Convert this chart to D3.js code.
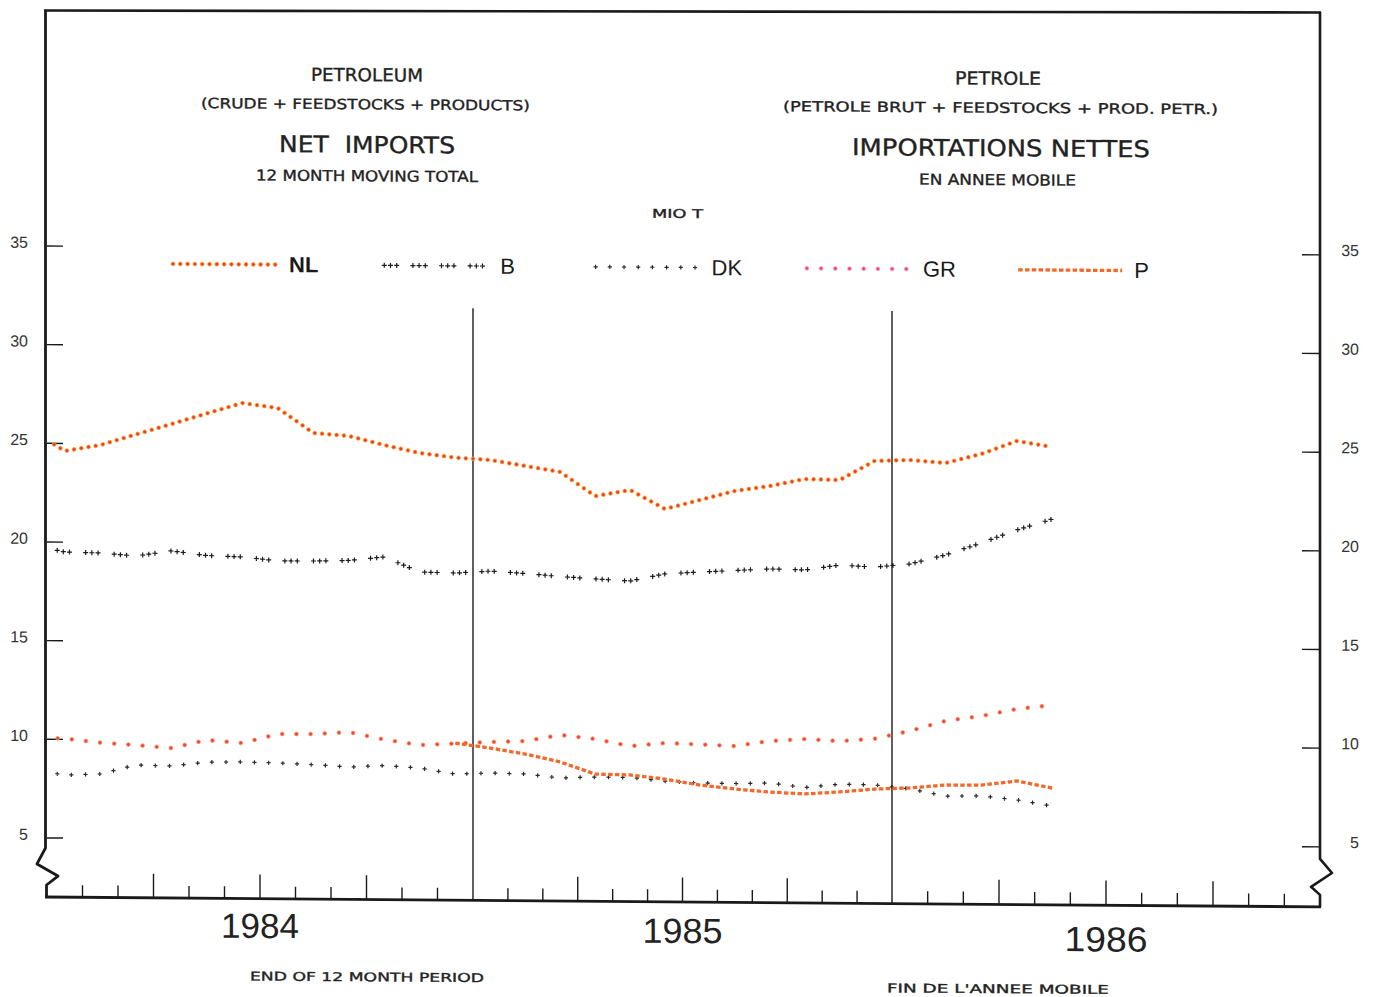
<!DOCTYPE html>
<html><head><meta charset="utf-8">
<script src="https://cdn.jsdelivr.net/npm/d3@7"></script>
<style>body{margin:0;background:#fff}svg{display:block}</style>
</head><body>
<svg id="chart" width="1375" height="997"></svg>
<script>
// ---- DATA (12-month moving totals, Mio t, mid-month) ----
const months = ["1983-12","1984-01","1984-02","1984-03","1984-04","1984-05","1984-06","1984-07","1984-08","1984-09","1984-10","1984-11","1984-12",
  "1985-01","1985-02","1985-03","1985-04","1985-05","1985-06","1985-07","1985-08","1985-09","1985-10","1985-11","1985-12",
  "1986-01","1986-02","1986-03","1986-04","1986-05"];
const NL = [25.72,24.62,24.93,25.48,26.02,26.57,27.11,26.87,25.62,25.48,25.03,24.64,24.42,24.31,24.02,23.73,22.52,22.84,21.89,22.36,22.83,23.09,23.46,23.42,24.40,24.46,24.32,24.79,25.46,25.17];
const B  = [19.88,19.50,19.46,19.32,19.59,19.37,19.31,19.12,19.13,19.17,19.36,18.61,18.57,18.68,18.57,18.43,18.32,18.23,18.60,18.71,18.80,18.89,18.85,19.11,19.02,19.19,19.66,20.28,20.95,21.52];
const DK = [8.50,8.19,8.26,8.73,8.69,8.90,8.92,8.88,8.81,8.70,8.79,8.67,8.38,8.45,8.41,8.22,8.28,8.27,8.10,8.01,8.00,8.04,7.82,8.01,7.98,7.79,7.44,7.46,7.27,6.97];
const GR = [10.10,10.04,9.85,9.74,9.60,10.02,9.88,10.35,10.36,10.47,10.11,9.84,9.93,10.02,10.08,10.40,10.21,9.86,10.03,9.97,9.90,10.17,10.28,10.19,10.32,10.73,11.25,11.51,11.88,12.09];
const P  = [null,null,null,null,null,null,null,null,null,null,null,null,9.95,9.71,9.42,9.03,8.43,8.40,8.20,7.91,7.72,7.58,7.50,7.61,7.77,7.84,8.00,8.01,8.23,7.88];
const seriesNames = ["NL","B","DK","GR","P"];
const yTickValues = [5,10,15,20,25,30,35];
const yearLabels = ["1984","1985","1986"];

// ---- SETUP ----
const svg = d3.select("#chart");
// months from Jan 1984; the scanned axis is slightly uneven, so one stop per year boundary
const x = d3.scaleLinear().domain([0,12,24,36]).range([47,473,892,1320]);
const y = d3.scaleLinear().domain([0,35]).range([936.6,246]);
const axisY = 897;
const ink = "#1a1a1a";

svg.append("line").attr("x1",44).attr("y1",10.5).attr("x2",1321).attr("y2",12.5)
  .attr("stroke",ink).attr("stroke-width",2.6);

const g = svg.append("g").attr("transform","translate(47,0) skewY(0.4) translate(-47,0)");

const frameLine = d3.line();
g.append("path").attr("d", frameLine([[45.5,10],[45.5,848],[37,864],[58,876],[46.5,885],[46.5,axisY]]))
  .attr("fill","none").attr("stroke",ink).attr("stroke-width",2.8).attr("stroke-linejoin","round");
g.append("path").attr("d", frameLine([[1320,3],[1320,850],[1332,864],[1311,878],[1320,886],[1320,axisY+1]]))
  .attr("fill","none").attr("stroke",ink).attr("stroke-width",2.6).attr("stroke-linejoin","round");
g.append("line").attr("x1",45).attr("x2",1321).attr("y1",axisY).attr("y2",axisY+1)
  .attr("stroke",ink).attr("stroke-width",2.8);

const monthTicks = d3.range(1,36).filter(m => m !== 12 && m !== 24);
g.selectAll("line.mt").data(monthTicks).join("line").attr("class","mt")
  .attr("x1",d=>x(d)).attr("x2",d=>x(d))
  .attr("y1",axisY).attr("y2",d=> axisY - (d%3===0 ? 24 : 12))
  .attr("stroke",ink).attr("stroke-width",1.4);
g.selectAll("line.ys").data([12,24]).join("line").attr("class","ys")
  .attr("x1",d=>x(d)).attr("x2",d=>x(d)).attr("y1",axisY).attr("y2",y(32))
  .attr("stroke",ink).attr("stroke-width",1.4);

g.selectAll("text.yr").data(yearLabels).join("text").attr("class","yr")
  .attr("x",(d,i)=>x(6+12*i)).attr("y",(d,i)=>[936.5,938.5,944][i])
  .attr("text-anchor","middle").attr("font-family","Liberation Sans, Arial, sans-serif")
  .attr("font-size",35).attr("fill","#222")
  .attr("textLength",(d,i)=>[78,80,83][i]).attr("lengthAdjust","spacingAndGlyphs")
  .text(d=>d);

g.selectAll("line.yl").data(yTickValues).join("line").attr("class","yl")
  .attr("x1",47).attr("x2",63).attr("y1",d=>y(d)).attr("y2",d=>y(d))
  .attr("stroke",ink).attr("stroke-width",1.4);
g.selectAll("line.yr").data(yTickValues).join("line").attr("class","yr")
  .attr("x1",1302).attr("x2",1320).attr("y1",d=>y(d)).attr("y2",d=>y(d))
  .attr("stroke",ink).attr("stroke-width",1.4);
g.selectAll("text.yl").data(yTickValues).join("text").attr("class","yl")
  .attr("x",28).attr("y",d=>y(d)+2).attr("text-anchor","end")
  .attr("font-family","Liberation Sans, Arial, sans-serif").attr("font-size",16).attr("fill","#333")
  .text(d=>d);
g.selectAll("text.yrl").data(yTickValues).join("text").attr("class","yrl")
  .attr("x",1359).attr("y",d=>y(d)+1).attr("text-anchor","end")
  .attr("font-family","Liberation Sans, Arial, sans-serif").attr("font-size",16).attr("fill","#333")
  .text(d=>d);

// ---- TITLES ----
const titleFont = "DejaVu Sans, Verdana, sans-serif";
const texts = [
  {t:"PETROLEUM", cx:367, y:79, fs:18, w:112},
  {t:"(CRUDE + FEEDSTOCKS + PRODUCTS)", cx:365.5, y:107, fs:14, w:329},
  {t:"NET  IMPORTS", cx:367, y:150.5, fs:23, w:176},
  {t:"12 MONTH MOVING TOTAL", cx:367, y:179, fs:15, w:222},
  {t:"PETROLE", cx:998, y:78, fs:18, w:86},
  {t:"(PETROLE BRUT + FEEDSTOCKS + PROD. PETR.)", cx:1000.5, y:106, fs:14, w:435},
  {t:"IMPORTATIONS NETTES", cx:1001, y:149.5, fs:23, w:298},
  {t:"EN ANNEE MOBILE", cx:997.5, y:178.5, fs:15, w:157},
  {t:"MIO T", cx:677.5, y:213.5, fs:12, w:51},
  {t:"END OF 12 MONTH PERIOD", cx:367, y:979, fs:12, w:234},
  {t:"FIN DE L'ANNEE MOBILE", cx:998, y:986.5, fs:12, w:222}
];
g.selectAll("text.tt").data(texts).join("text").attr("class","tt")
  .attr("x",d=>d.cx).attr("y",d=>d.y).attr("text-anchor","middle")
  .attr("font-family",titleFont).attr("font-size",d=>d.fs).attr("fill","#222")
  .attr("stroke","#222").attr("stroke-width",0.35)
  .attr("textLength",d=>d.w).attr("lengthAdjust","spacingAndGlyphs")
  .style("white-space","pre")
  .text(d=>d.t);

// ---- SERIES ----
const line = d3.line().defined(d=>d.v!=null).x(d=>x(d.k+0.5)).y(d=>y(d.v));
const toPts = arr => arr.map((v,i)=>({k:i-1, v, m:months[i]}));

function sample(node, step, start){
  const L = node.getTotalLength(), out=[];
  for(let s=start; s<=L+0.01; s+=step){ const p=node.getPointAtLength(Math.min(s,L)); out.push([p.x,p.y]); }
  return out;
}
const plusPath = s => `M${-s},0H${s}M0,${-s}V${s}`;

const styles = {
  NL: {kind:"dot", step:7.3, r:1.9, fill:"#ef3d1c", stroke:"#f8a23a"},
  B:  {kind:"plus3", period:28.6, inner:6.2, size:2.5, color:"#1c1c1c"},
  DK: {kind:"plus", step:14.2, size:2.1, color:"#2a2a2a"},
  GR: {kind:"dot", step:14.2, r:1.9, fill:"#ef3f4c", stroke:"#f7a05a"},
  P:  {kind:"dash", color:"#f2692c", width:3.3, dash:"4.5,2.3"}
};

function drawStyled(parent, pathD, st, minX){
  const p = parent.append("path").attr("d",pathD).attr("fill","none");
  if(st.kind==="dash"){
    p.attr("stroke",st.color).attr("stroke-width",st.width).attr("stroke-dasharray",st.dash);
    return;
  }
  p.attr("stroke","none");
  const node = p.node();
  let pts=[];
  if(st.kind==="plus3"){
    const L=node.getTotalLength();
    for(let s=0; s<=L; s+=st.period){
      for(let j=0;j<3;j++){ const q=s+j*st.inner; if(q<=L){ const pt=node.getPointAtLength(q); pts.push([pt.x,pt.y]); } }
    }
  } else {
    pts = sample(node, st.step, 0);
  }
  pts = pts.filter(d=>d[0]>=minX);
  if(st.kind==="dot"){
    parent.append("g").selectAll("circle").data(pts).join("circle")
      .attr("cx",d=>d[0]).attr("cy",d=>d[1]).attr("r",st.r)
      .attr("fill",st.fill).attr("stroke",st.stroke).attr("stroke-width",0.8);
  } else {
    parent.append("g").selectAll("path").data(pts).join("path")
      .attr("transform",d=>`translate(${d[0]},${d[1]})`).attr("d",plusPath(st.size))
      .attr("stroke",st.color).attr("stroke-width",1.2).attr("fill","none");
  }
}

const dataMap = {NL, B, DK, GR, P};
const plotG = g.append("g");
["DK","B","GR","P","NL"].forEach(name=>{
  const pts = toPts(dataMap[name]);
  const sg = plotG.append("g").attr("class","series-"+name);
  drawStyled(sg, line(pts), styles[name], 48);
});

// ---- LEGEND ----
const legY = 263;
const legG = g.append("g");
seriesNames.forEach((name,i)=>{
  const x0 = 173 + 211.3*i;
  const st = Object.assign({}, styles[name]);
  if(name==="GR"){ st.fill="#f2407a"; st.stroke="#f8a0c0"; }
  const lg = legG.append("g");
  drawStyled(lg, d3.line()([[x0,legY],[x0+104,legY]]), st, 0);
  lg.append("text").attr("x",x0+116).attr("y",legY+7.5)
    .attr("font-family","Liberation Sans, Arial, sans-serif").attr("font-size",22)
    .attr("font-weight", name==="NL" ? "bold" : "normal").attr("fill","#1a1a1a")
    .text(name);
});
</script>
</body></html>
